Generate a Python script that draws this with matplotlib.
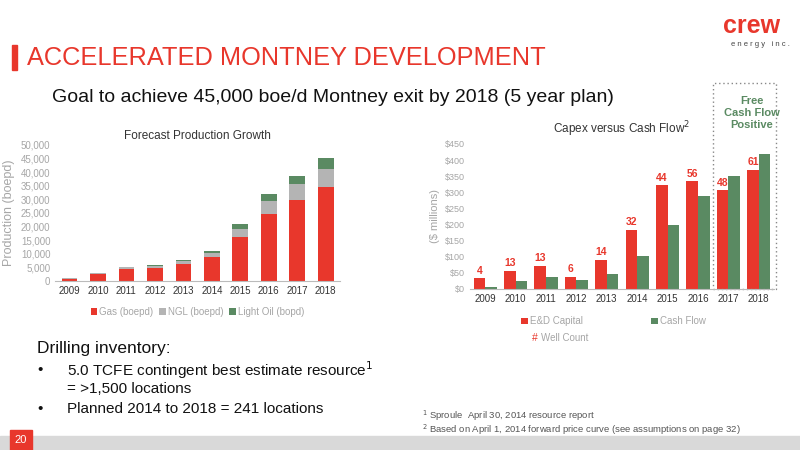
import matplotlib
matplotlib.use("Agg")
import matplotlib.pyplot as plt
import numpy as np
from matplotlib.patches import Rectangle

years = ["2009","2010","2011","2012","2013","2014","2015","2016","2017","2018"]
gas = [800, 2500, 4500, 4800, 6200, 8800, 16000, 24500, 29800, 34500]
ngl = [200, 400, 600, 800, 1200, 1500, 3000, 5000, 5800, 6500]
oil = [100, 100, 100, 200, 300, 500, 1800, 2300, 3100, 4000]
capex = [33, 56, 72, 38, 90, 184, 322, 334, 306, 370]
cashflow = [7, 24, 38, 29, 47, 103, 197, 288, 350, 419]
wells = [4, 13, 13, 6, 14, 32, 44, 56, 48, 61]

RED = "#e8372c"; GREEN = "#5a8a62"; GRAY = "#b4b4b4"; TXT = "#333333"; LT = "#a6a6a6"
plt.rcParams['font.family'] = ['Liberation Sans', 'DejaVu Sans']

fig = plt.figure(figsize=(8, 4.5), dpi=100)
fig.patch.set_facecolor("white")

fig.patches.append(Rectangle((12/800, 1-70/450), 5/800, 25/450, transform=fig.transFigure, color=RED))
fig.text(27/800, 1-58/450, "ACCELERATED MONTNEY DEVELOPMENT", color=RED, fontsize=18.3, va="center")
fig.text(52/800, 1-97/450, "Goal to achieve 45,000 boe/d Montney exit by 2018 (5 year plan)", color="#111", fontsize=14, va="center")
fig.text(752/800, 1-26/450, "crew", color=RED, fontsize=18, fontweight="bold", ha="center", va="center")
fig.text(760/800, 1-45/450, "e n e r g y   i n c .", color="#444", fontsize=5.5, ha="center", va="center")

ax1 = fig.add_axes([0.069, 0.376, 0.356, 0.302])
x = np.arange(len(years))
ax1.bar(x, gas, 0.55, color=RED, label="Gas (boepd)")
ax1.bar(x, ngl, 0.55, bottom=gas, color=GRAY, label="NGL (boepd)")
ax1.bar(x, oil, 0.55, bottom=np.add(gas, ngl), color=GREEN, label="Light Oil (bopd)")
ax1.set_ylim(0, 50000)
ax1.set_yticks(range(0, 50001, 5000))
ax1.set_yticklabels([f"{v:,}" for v in range(0, 50001, 5000)], color=LT, fontsize=7)
ax1.set_xticks(x); ax1.set_xticklabels(years, fontsize=7, color=TXT)
ax1.set_xlim(-0.5, 9.5)
for s in ["top", "right", "left"]: ax1.spines[s].set_visible(False)
ax1.spines["bottom"].set_color("#bbb")
ax1.tick_params(length=0)
ax1.set_title("Forecast Production Growth", fontsize=8.5, color=TXT, pad=4)
ax1.set_ylabel("Production (boepd)", color=LT, fontsize=9)
ax1.legend(loc="upper center", bbox_to_anchor=(0.5, -0.13), ncol=3, frameon=False, fontsize=7,
           handlelength=0.7, handleheight=0.7, handletextpad=0.2, columnspacing=0.6, labelcolor=LT)

ax2 = fig.add_axes([0.5875, 0.358, 0.38, 0.322])
w = 0.38
ax2.bar(x - w/2, capex, w, color=RED, label="E&D Capital")
ax2.bar(x + w/2, cashflow, w, color=GREEN, label="Cash Flow")
for xi, c, n in zip(x, capex, wells):
    ax2.text(xi - w/2, c + 8, str(n), color=RED, fontsize=7.5, fontweight="bold", ha="center", va="bottom")
ax2.set_ylim(0, 450)
ax2.set_yticks(range(0, 451, 50))
ax2.set_yticklabels([f"${v}" for v in range(0, 451, 50)], color=LT, fontsize=6.5)
ax2.set_xticks(x); ax2.set_xticklabels(years, fontsize=7, color=TXT)
ax2.set_xlim(-0.5, 9.5)
for s in ["top", "right", "left"]: ax2.spines[s].set_visible(False)
ax2.spines["bottom"].set_color("#bbb")
ax2.tick_params(length=0)
ax2.set_title("Capex versus Cash Flow$^2$", fontsize=8.5, color=TXT, pad=8)
ax2.set_ylabel("($ millions)", color=LT, fontsize=8)
ax2.add_patch(Rectangle((7.5, 0), 2.05, 1.42, transform=ax2.get_xaxis_transform(), fill=False,
                        ls=(0, (1, 2)), ec="#888", lw=1, clip_on=False))
fig.text(752/800, 1-113/450, "Free\nCash Flow\nPositive", color=GREEN, fontsize=8, fontweight="bold",
         ha="center", va="center", linespacing=1.2)
ax2.legend(loc="upper left", bbox_to_anchor=(0.14, -0.13), ncol=2, frameon=False, fontsize=7,
           handlelength=0.7, handleheight=0.7, handletextpad=0.2, columnspacing=7, labelcolor=LT)
fig.text(532/800, 1-338/450, "#", color=RED, fontsize=7.5, va="center")
fig.text(541/800, 1-338/450, "Well Count", color=LT, fontsize=7, va="center")

fig.text(37/800, 1-348/450, "Drilling inventory:", fontsize=12.5, color="#111", va="center")
fig.text(37/800, 1-370/450, "•", fontsize=11, color="#111", va="center")
fig.text(67/800, 1-370/450, "5.0 TCFE contingent best estimate resource$^1$", fontsize=11, color="#111", va="center")
fig.text(67/800, 1-389/450, "= >1,500 locations", fontsize=11, color="#111", va="center")
fig.text(37/800, 1-409/450, "•", fontsize=11, color="#111", va="center")
fig.text(67/800, 1-409/450, "Planned 2014 to 2018 = 241 locations", fontsize=11, color="#111", va="center")
fig.text(422/800, 1-416/450, "$^1$ Sproule  April 30, 2014 resource report", fontsize=6.8, color="#555", va="center")
fig.text(422/800, 1-430/450, "$^2$ Based on April 1, 2014 forward price curve (see assumptions on page 32)", fontsize=6.8, color="#555", va="center")

fig.patches.append(Rectangle((0, 0), 1, 14/450, transform=fig.transFigure, color="#d9d9d9"))
fig.patches.append(Rectangle((10/800, 0), 22/800, 20/450, transform=fig.transFigure, color=RED))
fig.text(21/800, 10/450, "20", color="white", fontsize=8, ha="center", va="center")

fig.savefig("out.png", dpi=100)
